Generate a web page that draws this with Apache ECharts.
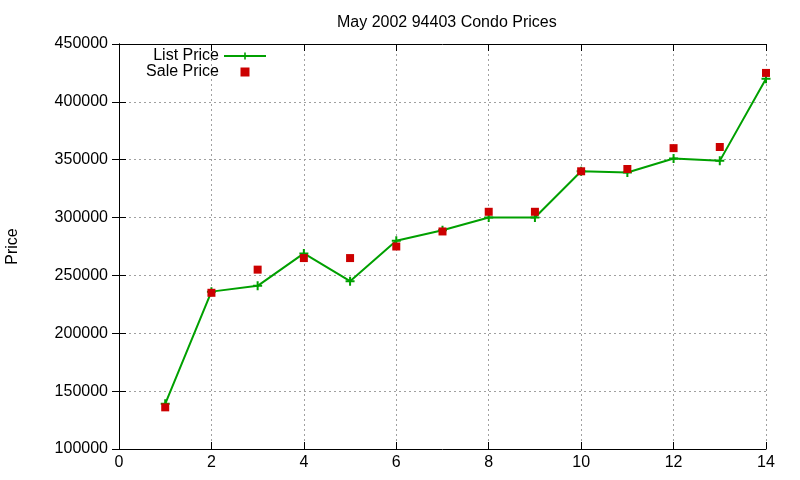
<!DOCTYPE html>
<html>
<head>
<meta charset="utf-8">
<script src="https://cdn.jsdelivr.net/npm/echarts@6/dist/echarts.min.js"></script>
<style>
  html, body { margin: 0; padding: 0; background: #fff; }
  #chart { width: 800px; height: 480px; }
</style>
</head>
<body>
<div id="chart"></div>
<script>
// data
var units = [1, 2, 3, 4, 5, 6, 7, 8, 9, 10, 11, 12, 13, 14];
var listPrice = [139000, 236000, 241000, 269000, 245000, 280000, 289000, 300000, 300000, 340000, 339000, 351000, 349000, 420000];
var salePrice = [136000, 235000, 255000, 265000, 265000, 275000, 288000, 305000, 305000, 340000, 342000, 360000, 361000, 425000];

var FONT = 'Liberation Sans';
var crossIcon = 'path://M3.5,0L5.5,0L5.5,9L3.5,9Z M0,3.5L9,3.5L9,5.5L0,5.5Z';
var squareIcon = 'path://M0,0L1,0L1,1L0,1Z';

function pairs(xs, ys) {
  return xs.map(function (x, i) { return [x, ys[i]]; });
}

var chart = echarts.init(document.getElementById('chart'));

var gridLine = { show: true, lineStyle: { color: '#a0a0a0', type: [2, 3], width: 1 } };
var border = { show: true, lineStyle: { color: '#000', width: 1 } };
var tick = { show: true, inside: true, length: 7, lineStyle: { color: '#000' } };

chart.setOption({
  animation: false,
  title: {
    text: 'May 2002 94403 Condo Prices',
    left: 332,
    top: 10,
    textStyle: { fontFamily: FONT, fontSize: 16, fontWeight: 'normal', color: '#000' }
  },
  legend: {
    orient: 'vertical',
    align: 'right',
    right: 533,
    top: 48,
    padding: 0,
    itemWidth: 42,
    itemHeight: 9,
    itemGap: 0,
    textStyle: { fontFamily: FONT, fontSize: 16, color: '#000', lineHeight: 16 },
    data: [
      { name: 'List Price' },
      { name: 'Sale Price', icon: squareIcon }
    ]
  },
  grid: { left: 119, right: 34, top: 44, bottom: 31, containLabel: false, outerBoundsMode: 'none' },
  xAxis: [
    {
      type: 'value', min: 0, max: 14, interval: 2,
      axisLine: border, axisTick: tick, splitLine: gridLine,
      axisLabel: { margin: 6, color: '#000', fontFamily: FONT, fontSize: 16 }
    },
    {
      type: 'value', position: 'top', min: 0, max: 14, interval: 2,
      axisLine: border, axisTick: tick, splitLine: { show: false },
      axisLabel: { show: false }
    }
  ],
  yAxis: [
    {
      type: 'value', min: 100000, max: 450000, interval: 50000,
      name: 'Price', nameLocation: 'middle', nameRotate: 90, nameGap: 98,
      nameTextStyle: { fontFamily: FONT, fontSize: 16, color: '#000' },
      axisLine: border, axisTick: tick, splitLine: gridLine,
      axisLabel: {
        margin: 11, color: '#000', fontFamily: FONT, fontSize: 16,
        formatter: function (v) { return String(v); }
      }
    },
    {
      type: 'value', position: 'right', min: 100000, max: 450000, interval: 50000,
      axisLine: border, axisTick: tick, splitLine: { show: false },
      axisLabel: { show: false }
    }
  ],
  series: [
    {
      name: 'List Price',
      type: 'line',
      data: pairs(units, listPrice),
      symbol: crossIcon,
      symbolSize: 9,
      showAllSymbol: true,
      itemStyle: { color: '#00a000' },
      lineStyle: { color: '#00a000', width: 2 },
      z: 2
    },
    {
      name: 'Sale Price',
      type: 'scatter',
      data: pairs(units, salePrice),
      symbol: 'rect',
      symbolSize: 8,
      itemStyle: { color: '#cc0000', opacity: 1 },
      z: 3
    }
  ]
});
</script>
</body>
</html>
